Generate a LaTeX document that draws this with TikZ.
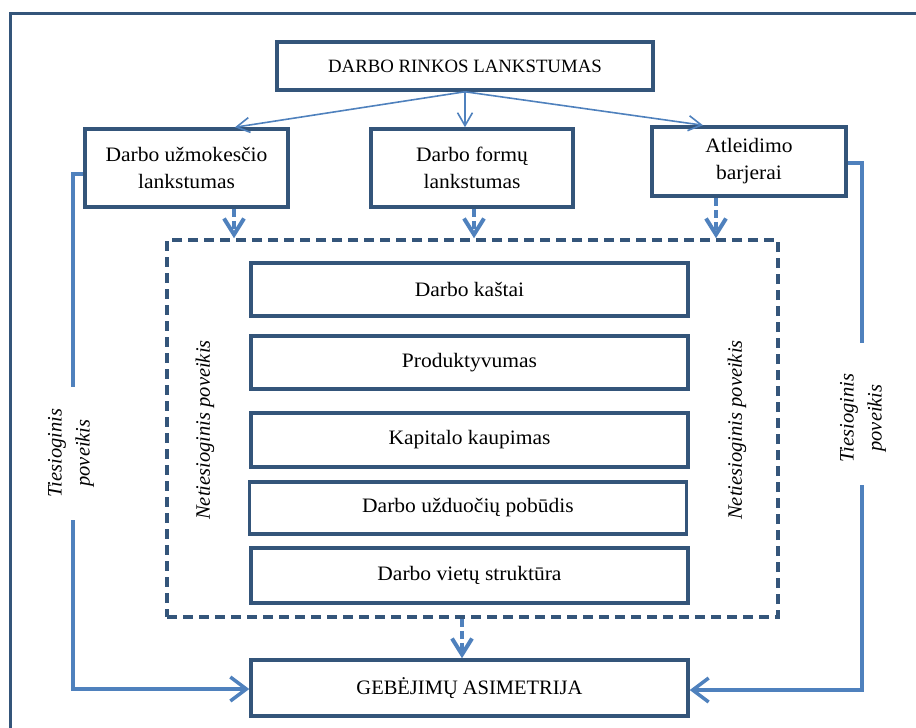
\documentclass[tikz,border=0pt]{standalone}
\usepackage{fontspec}
\setmainfont{Liberation Serif}
\newfontfamily\boxfont{Liberation Serif}[FakeStretch=1.05]
\usetikzlibrary{arrows.meta}
\definecolor{boxblue}{HTML}{34557A}
\definecolor{linkblue}{HTML}{4F81BD}
\tikzset{
  stepbox/.style={draw=boxblue, line width=3.5pt, fill=white, align=center,
    inner sep=0pt, font=\boxfont\fontsize{20.5}{27}\selectfont},
  framebox/.style={draw=boxblue, line width=3.5pt, dash pattern=on 10pt off 6pt,
    inner sep=0pt},
  thinarrow/.style={draw=linkblue, line width=1.6pt,
    -{Straight Barb[length=13pt,width=15pt,line width=1.6pt]}},
  dasharrow/.style={draw=linkblue, line width=4pt, dash pattern=on 8pt off 4pt,
    -{Straight Barb[length=16pt,width=20pt,line width=4pt]}},
  sideline/.style={draw=linkblue, line width=3.5pt},
  sidearrow/.style={sideline,
    -{Straight Barb[length=16pt,width=24pt,line width=3.5pt]}},
  sidetext/.style={rotate=90, align=center, inner sep=0pt,
    font=\fontsize{20.5}{28}\selectfont\itshape},
}
\begin{document}
\begin{tikzpicture}[x=1pt, y=-1pt]
  \useasboundingbox (0,0) rectangle (916,728);
  \clip (0,0) rectangle (916,728);
  % page frame
  \draw[boxblue, line width=3pt] (10.5,13.5) rectangle (940,760);

  % top level
  \node[stepbox, minimum width=376pt, minimum height=48pt,
        font=\fontsize{18.8}{24}\selectfont] (top) at (465,66) {DARBO RINKOS LANKSTUMAS};
  \node[stepbox, minimum width=203pt, minimum height=78pt] (wage) at (186.5,168)
    {Darbo užmokesčio\\lankstumas};
  \node[stepbox, minimum width=202pt, minimum height=78pt] (forms) at (472,168)
    {Darbo formų\\lankstumas};
  \node[stepbox, minimum width=194pt, minimum height=69pt] (fire) at (749,161.5)
    {Atleidimo\\barjerai};

  % dashed frame with the channels
  \node[framebox, minimum width=611pt, minimum height=377pt] (chan) at (472.5,428.5) {};
  \node[stepbox, minimum width=437pt, minimum height=53pt] (cost) at (469.5,289.5) {Darbo kaštai};
  \node[stepbox, minimum width=437pt, minimum height=53pt] (prod) at (469.5,362.5) {Produktyvumas};
  \node[stepbox, minimum width=437pt, minimum height=54pt] (cap) at (469.5,440) {Kapitalo kaupimas};
  \node[stepbox, minimum width=437pt, minimum height=52pt] (task) at (468,508) {Darbo užduočių pobūdis};
  \node[stepbox, minimum width=437pt, minimum height=55pt] (jobs) at (469.5,575.5) {Darbo vietų struktūra};

  % result
  \node[stepbox, minimum width=437pt, minimum height=56pt,
        font=\fontsize{20.5}{24}\selectfont] (skill) at (469.5,688) {GEBĖJIMŲ ASIMETRIJA};

  % indirect effect labels
  \node[sidetext] (indl) at (205,430) {Netiesioginis poveikis};
  \node[sidetext] (indr) at (737,430) {Netiesioginis poveikis};

  % top fan-out
  \draw[thinarrow] (top.south) -- ([xshift=48.5pt]wage.north);
  \draw[thinarrow] (top.south) -- (top.south |- forms.north);
  \draw[thinarrow] (top.south) -- ([xshift=-46pt]fire.north);

  % into the channels
  \draw[dasharrow] ([xshift=47.5pt]wage.south) -- ([xshift=47.5pt]wage.south |- chan.north);
  \draw[dasharrow] ([xshift=2pt]forms.south) -- ([xshift=2pt]forms.south |- chan.north);
  \draw[dasharrow] ([xshift=-33pt]fire.south) -- ([xshift=-33pt]fire.south |- chan.north);
  \draw[dasharrow] ([xshift=-10.5pt]chan.south) -- ([xshift=-10.5pt]chan.south |- skill.north);

  % direct effect, left
  \coordinate (l1) at (73,387);
  \coordinate (l2) at (73,520);
  \draw[sideline] ([yshift=-6pt]wage.west) -| (l1);
  \draw[sidearrow] (l2) |- ([yshift=-1pt]skill.west);
  \node[sidetext] (dirl) at (71,453) {Tiesioginis\\poveikis};

  % direct effect, right
  \coordinate (r1) at (862,343);
  \coordinate (r2) at (862,485);
  \draw[sideline] ([yshift=-1.5pt]fire.east) -| (r1);
  \draw[sidearrow] (r2) |- ([yshift=-2pt]skill.east);
  \node[sidetext] (dirr) at (863,418) {Tiesioginis\\poveikis};
\end{tikzpicture}
\end{document}
